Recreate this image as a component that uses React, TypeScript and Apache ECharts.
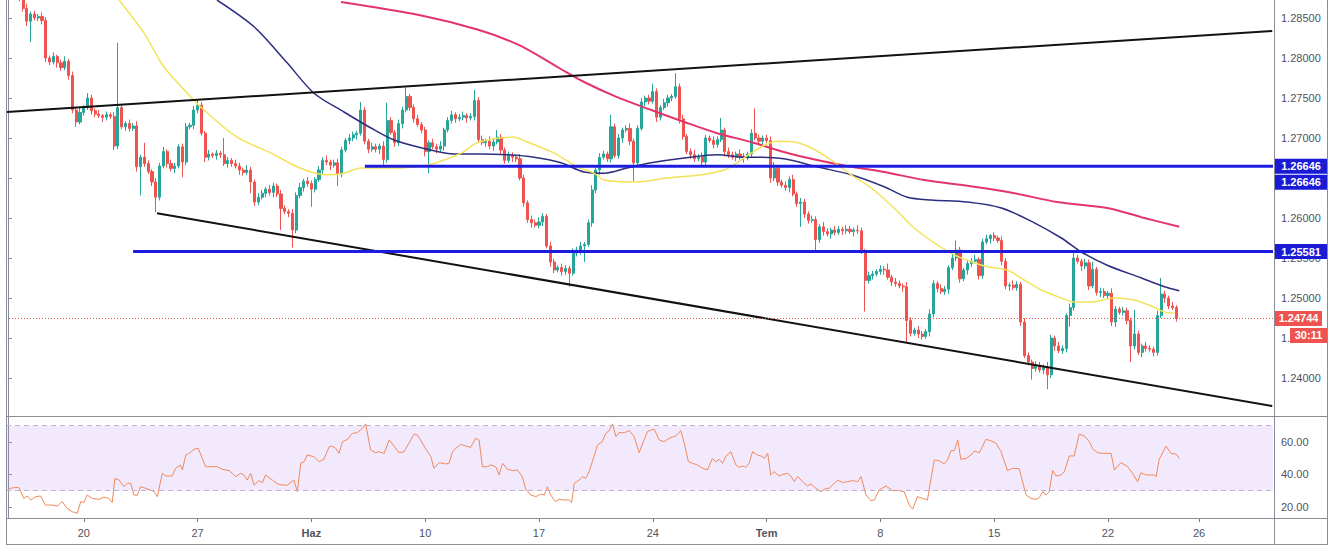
import React, { useEffect, useRef } from 'react';
import * as echarts from 'echarts';

// ---------- data (prices in pips above 1.20000, i.e. 742 => 1.27420) ----------
const SLOTS = 334; // candle slots on the time axis (incl. empty right margin)
const FIRST_OPEN = 898;

const closes = [
  893, 887, 881, 874, 862, 846, 855, 850, 852, 847,
  800, 795, 802, 794, 788, 796, 778, 735, 720, 732,
  738, 750, 734, 730, 728, 726, 729, 727, 690, 738,
  714, 718, 712, 715, 664, 676, 668, 658, 645, 626,
  665, 683, 668, 662, 665, 689, 670, 714, 716, 735,
  741, 706, 676, 680, 678, 681, 679, 668, 672, 668,
  665, 660, 657, 660, 645, 620, 626, 631, 636, 632,
  640, 630, 612, 608, 606, 585, 628, 638, 646, 643,
  636, 648, 660, 672, 670, 666, 669, 655, 685, 697,
  700, 704, 706, 735, 696, 686, 689, 686, 690, 673,
  722, 707, 694, 718, 735, 752, 738, 724, 717, 710,
  683, 694, 689, 686, 690, 710, 722, 729, 724, 726,
  728, 725, 727, 747, 698, 694, 696, 690, 695, 701,
  685, 672, 678, 676, 674, 650, 619, 598, 594, 591,
  595, 602, 565, 545, 535, 538, 533, 537, 531, 556,
  560, 565, 567, 594, 635, 660, 676, 680, 674, 714,
  678, 700, 710, 712, 696, 669, 712, 745, 750, 746,
  758, 726, 738, 744, 750, 752, 764, 724, 702, 683,
  679, 674, 677, 670, 700, 697, 692, 698, 710, 683,
  679, 676, 680, 677, 675, 680, 706, 700, 696, 700,
  697, 650, 662, 645, 641, 638, 648, 630, 618, 620,
  605, 597, 598, 573, 589, 583, 580, 585, 582, 586,
  584, 586, 583, 585, 584, 558, 522, 528, 530, 533,
  536, 535, 526, 520, 518, 515, 514, 472, 456, 460,
  455, 452, 458, 480, 518, 512, 508, 511, 538, 550,
  560, 524, 535, 543, 546, 548, 528, 570, 574, 578,
  575, 572, 546, 515, 516, 513, 517, 470, 428, 420,
  412, 416, 410, 414, 404, 450, 440, 434, 437, 478,
  488, 550, 546, 540, 544, 515, 536, 507, 508, 503,
  506, 470, 486, 482, 484, 472, 440, 455, 432, 440,
  437, 436, 432, 478, 505, 500, 490, 488, 474.4,
];

const upperWick = [
  3, 4, 2, 5, 4, 6, 3, 4, 3, 5,
  4, 3, 5, 2, 4, 6, 3, 5, 4, 7,
  3, 6, 4, 3, 5, 2, 4, 3, 5, 81,
  4, 3, 5, 4, 6, 3, 18, 4, 3, 5,
  4, 6, 3, 5, 4, 3, 4, 5, 3, 5,
  7, 4, 3, 5, 2, 4, 3, 21, 4, 3,
  5, 4, 3, 6, 4, 3, 5, 4, 3, 5,
  4, 3, 5, 4, 3, 5, 4, 6, 3, 5,
  4, 3, 5, 4, 6, 3, 4, 5, 4, 3,
  5, 4, 3, 10, 4, 3, 5, 4, 3, 6,
  22, 4, 3, 5, 4, 11, 3, 4, 5, 3,
  4, 3, 5, 4, 6, 3, 4, 5, 3, 4,
  5, 3, 4, 13, 4, 5, 3, 6, 4, 9,
  4, 3, 5, 4, 3, 6, 4, 3, 5, 4,
  6, 4, 3, 5, 4, 3, 5, 4, 3, 6,
  4, 5, 3, 4, 6, 3, 5, 4, 3, 15,
  4, 5, 3, 4, 6, 3, 4, 5, 3, 4,
  10, 4, 3, 5, 4, 3, 17, 4, 5, 3,
  4, 6, 3, 5, 4, 3, 5, 4, 15, 3,
  5, 4, 3, 6, 4, 3, 5, 31, 4, 3,
  4, 5, 8, 4, 3, 5, 4, 6, 3, 5,
  4, 3, 5, 4, 3, 6, 4, 3, 5, 4,
  3, 5, 4, 3, 6, 4, 3, 5, 4, 3,
  5, 4, 8, 3, 5, 4, 3, 6, 4, 3,
  5, 4, 3, 6, 4, 3, 5, 4, 3, 6,
  12, 4, 3, 5, 4, 6, 3, 4, 5, 2,
  4, 3, 5, 4, 3, 6, 4, 3, 5, 4,
  3, 5, 4, 3, 6, 4, 3, 5, 4, 3,
  5, 8, 4, 3, 5, 4, 9, 3, 5, 4,
  3, 6, 4, 3, 5, 4, 3, 30, 4, 3,
  5, 4, 3, 6, 20, 4, 3, 5, 3,
];

const lowerWick = [
  4, 3, 5, 3, 4, 6, 26, 3, 4, 5,
  5, 4, 3, 6, 4, 3, 5, 4, 6, 3,
  4, 3, 5, 4, 3, 6, 4, 3, 5, 4,
  3, 5, 4, 3, 6, 36, 4, 3, 5, 19,
  4, 3, 5, 4, 6, 3, 19, 4, 3, 5,
  4, 3, 6, 4, 3, 5, 4, 3, 5, 4,
  3, 6, 4, 3, 14, 5, 4, 3, 5, 4,
  6, 4, 27, 3, 5, 22, 4, 3, 5, 4,
  22, 4, 3, 5, 4, 6, 3, 15, 4, 3,
  5, 4, 6, 3, 4, 5, 3, 4, 6, 8,
  4, 3, 5, 4, 6, 3, 4, 5, 3, 4,
  6, 27, 3, 5, 4, 6, 3, 4, 5, 3,
  4, 6, 3, 5, 4, 3, 5, 4, 6, 3,
  5, 4, 3, 6, 4, 3, 5, 4, 6, 3,
  4, 5, 3, 6, 4, 3, 5, 4, 17, 3,
  4, 6, 20, 3, 5, 4, 6, 3, 4, 5,
  3, 4, 6, 3, 5, 23, 4, 3, 5, 4,
  3, 6, 4, 3, 5, 4, 3, 6, 4, 3,
  5, 4, 3, 6, 4, 3, 5, 4, 3, 6,
  4, 3, 5, 4, 6, 3, 4, 3, 5, 4,
  3, 6, 4, 5, 3, 4, 6, 3, 4, 29,
  5, 4, 3, 13, 4, 5, 3, 6, 4, 3,
  5, 4, 3, 6, 4, 3, 39, 4, 5, 3,
  4, 6, 3, 5, 4, 3, 6, 27, 4, 3,
  5, 4, 3, 6, 4, 5, 3, 4, 6, 3,
  4, 5, 3, 6, 4, 3, 5, 4, 3, 6,
  4, 3, 5, 4, 6, 3, 4, 5, 3, 4,
  14, 4, 3, 5, 18, 4, 6, 3, 4, 5,
  14, 4, 3, 6, 4, 5, 3, 4, 6, 3,
  4, 5, 6, 3, 4, 5, 20, 4, 3, 6,
  4, 3, 5, 4, 3, 6, 4, 3, 4,
];

// moving averages: [candle index, pips]
const maFast = [
  [29.3, 872.5], [35.9, 831], [41.1, 789], [48.3, 751], [51.7, 735], [60.4, 701], [69.4, 681],
  [75.4, 666], [79.9, 657.5], [84.1, 654], [88.6, 656], [93.1, 662.5], [101.8, 662.5], [110.5, 666],
  [115.0, 672.5], [119.5, 681], [123.7, 694], [128.2, 699], [133.4, 701], [136.9, 695], [144.0, 681],
  [150.1, 664], [154.5, 656], [157.2, 647.5], [165.1, 645], [173.8, 650], [182.8, 654], [188.8, 660],
  [192.2, 669], [195.9, 681], [199.4, 691], [202.8, 696], [207.3, 695], [211.8, 687.5], [217.0, 672.5],
  [222.3, 654], [227.6, 637.5], [233.6, 612.5], [238.9, 587.5], [244.2, 569], [249.5, 554], [254.7, 544],
  [258.2, 539], [263.4, 535], [267.9, 522.5], [272.4, 510], [277.7, 500], [281.1, 495], [285.6, 495],
  [291.7, 500], [296.9, 497.5], [301.4, 490], [304.9, 482.5], [307.5, 481],
];
const maMid = [
  [55.1, 872.5], [64.9, 839], [73.6, 794], [80.7, 756], [88.6, 732.5], [95.7, 712.5], [101.8, 697.5],
  [110.5, 686], [117.6, 680], [124.7, 680], [131.6, 679], [138.7, 676], [145.8, 669], [151.9, 657.5],
  [157.2, 656], [163.2, 662.5], [169.6, 669], [178.3, 675], [187.0, 679], [194.1, 676], [198.6, 676],
  [204.6, 674], [213.3, 664], [222.3, 654], [231.0, 639], [237.1, 626], [243.4, 622.5], [252.9, 620],
  [261.9, 612.5], [270.6, 594], [277.7, 575], [283.0, 557.5], [289.8, 541], [298.8, 525], [304.9, 514],
  [308.8, 509],
];
const maSlow = [
  [87.8, 870], [108.4, 853.75], [124.2, 835], [134.8, 816], [145.3, 787.5], [151.9, 770], [160.6, 751],
  [169.6, 735], [178.3, 720], [187.0, 706], [195.9, 695], [204.6, 682.5], [213.3, 672.5], [222.3, 664],
  [231.0, 657.5], [241.6, 647.5], [254.7, 639], [265.3, 631], [276.6, 620], [289.8, 612.5], [298.8, 601],
  [308.8, 589],
];

// RSI: [candle index, value]
const rsi = [
  [0, 30.5], [0.7, 31.5], [2.0, 32.1], [2.9, 31.9], [4.2, 25.3], [5.1, 26.8], [6.0, 24.3], [7.3, 26.3],
  [8.6, 26.8], [9.9, 21.2], [11.7, 21.2], [13.0, 20.6], [14.3, 23.3], [15.6, 19.2], [17.0, 17.1],
  [18.3, 16.1], [19.2, 23.3], [20.0, 22.7], [20.9, 27.4], [22.2, 25.3], [24.0, 24.7], [25.3, 26.0],
  [26.6, 25.3], [27.5, 22.7], [28.2, 37.6], [29.3, 36.6], [30.6, 32.5], [31.5, 34.6], [32.4, 34.6],
  [33.2, 27.4], [34.1, 27.2], [35.0, 32.5], [36.3, 31.5], [37.6, 30.5], [38.5, 29.4], [39.4, 26.3],
  [40.7, 40.7], [41.6, 39.1], [43.3, 39.1], [44.2, 43.8], [45.5, 45.8], [46.0, 42.8], [46.9, 52.0],
  [47.7, 53.0], [49.1, 55.5], [50.2, 56.1], [52.1, 44.8], [53.9, 44.8], [55.2, 44.8], [56.5, 43.2],
  [58.3, 42.4], [59.2, 40.7], [60.0, 38.7], [61.4, 40.7], [62.2, 39.7], [63.1, 36.6], [64.0, 40.7],
  [64.9, 33.5], [66.2, 36.2], [67.1, 35.0], [67.9, 39.7], [69.7, 36.6], [71.0, 34.2], [72.3, 33.5],
  [73.7, 33.5], [75.4, 36.6], [76.3, 29.4], [77.2, 46.9], [78.1, 47.9], [78.9, 52.0], [80.7, 51.0],
  [82.0, 47.9], [83.3, 49.3], [84.7, 57.1], [85.5, 57.5], [86.4, 56.1], [87.3, 53.0], [88.2, 60.2],
  [89.5, 61.6], [90.8, 65.3], [92.1, 65.7], [93.4, 68.4], [94.3, 71.1], [95.6, 55.1], [96.9, 53.4],
  [97.8, 54.0], [99.2, 53.0], [100.5, 61.2], [101.8, 57.5], [103.1, 53.4], [104.4, 54.0], [105.7, 59.2],
  [107.1, 64.9], [107.9, 64.3], [108.8, 61.2], [110.2, 55.5], [111.5, 51.0], [112.3, 43.8], [113.7, 47.3],
  [115.4, 46.5], [116.3, 46.9], [117.2, 54.1], [118.1, 56.1], [119.4, 58.6], [120.7, 57.5], [122.0, 56.7],
  [123.3, 62.3], [124.2, 61.2], [125.1, 44.8], [126.4, 44.8], [127.3, 45.9], [128.6, 44.8], [129.5, 39.7],
  [130.4, 46.9], [131.7, 43.2], [133.0, 42.4], [134.3, 42.8], [135.6, 38.7], [136.5, 31.1], [137.8, 27.4],
  [139.2, 26.4], [140.5, 28.0], [141.4, 27.4], [142.2, 32.5], [143.1, 27.4], [144.3, 23.3], [145.3, 24.7],
  [146.6, 24.3], [148.0, 24.3], [148.6, 22.7], [149.3, 34.6], [150.6, 36.6], [151.5, 38.7], [152.3, 37.6],
  [153.2, 41.7], [154.5, 51.0], [155.4, 58.1], [156.7, 60.2], [157.6, 65.3], [158.5, 67.0], [159.4, 71.1],
  [160.3, 63.3], [161.1, 65.7], [162.5, 65.7], [163.8, 67.0], [165.1, 63.3], [166.4, 53.4], [167.7, 61.2],
  [168.6, 66.4], [169.5, 67.4], [170.4, 67.8], [171.7, 61.2], [173.0, 60.2], [174.3, 62.3], [176.1, 63.7],
  [177.4, 67.0], [178.3, 59.2], [179.4, 47.9], [180.5, 46.9], [181.8, 45.8], [183.1, 43.8], [184.4, 42.8],
  [185.7, 49.9], [186.6, 47.9], [187.5, 49.3], [188.4, 46.9], [189.3, 51.4], [190.6, 54.0], [191.9, 45.9],
  [192.8, 44.4], [193.7, 45.2], [194.5, 44.4], [195.4, 46.9], [196.3, 54.0], [197.6, 52.0], [198.5, 51.4],
  [199.4, 49.9], [200.3, 53.0], [201.1, 39.7], [202.0, 41.7], [203.3, 39.1], [204.6, 40.3], [205.5, 40.7],
  [206.4, 39.1], [207.3, 35.6], [208.2, 38.7], [209.5, 35.6], [210.8, 32.9], [211.7, 34.2], [213.0, 31.5],
  [214.3, 29.4], [215.6, 31.5], [216.5, 31.5], [217.4, 33.5], [218.7, 36.6], [220.0, 35.0], [221.3, 35.6],
  [222.7, 36.2], [224.0, 35.6], [224.9, 38.7], [226.2, 27.4], [227.5, 23.9], [228.4, 24.3], [229.7, 30.5],
  [231.5, 32.9], [233.2, 30.1], [235.0, 30.1], [236.3, 29.4], [237.6, 21.2], [238.5, 18.6], [239.8, 26.4],
  [241.1, 25.3], [242.4, 24.3], [244.2, 48.9], [245.5, 48.5], [246.8, 46.5], [247.7, 48.9], [248.6, 54.7],
  [249.5, 54.7], [250.4, 61.2], [251.2, 49.3], [252.6, 49.9], [253.9, 52.0], [254.8, 54.5], [256.1, 53.4],
  [257.8, 61.6], [259.1, 60.8], [260.5, 59.2], [261.8, 54.1], [263.5, 42.4], [264.9, 43.8], [266.6, 43.6],
  [268.4, 27.4], [269.7, 25.3], [271.0, 24.7], [271.9, 25.9], [272.8, 29.4], [273.7, 27.4], [274.5, 29.4],
  [275.4, 42.4], [276.3, 39.1], [277.6, 39.7], [278.5, 41.7], [279.8, 51.4], [281.1, 51.4], [282.4, 64.9],
  [283.8, 63.7], [285.1, 60.2], [286.0, 55.5], [287.3, 53.4], [288.6, 53.0], [290.8, 53.0], [291.7, 42.8],
  [293.4, 47.3], [295.2, 44.8], [296.5, 40.7], [297.8, 35.6], [298.7, 41.1], [300.0, 39.7], [302.2, 39.7],
  [302.7, 38.7], [303.5, 49.3], [305.3, 57.5], [306.6, 53.0], [307.9, 52.6], [308.8, 49.9],
];

// drawn lines: [candle index, pips]
const upperTrend = [[-0.3, 732.5], [333.3, 833.75]];
const lowerTrend = [[39.3, 606], [333.3, 365]];
const resistanceLevel = 1.26646;
const resistanceStart = 94.1;
const supportLevel = 1.25581;
const supportStart = 33;
const lastPrice = 1.24744;
const countdown = '30:11';

const priceTicks = [1.24, 1.245, 1.25, 1.255, 1.26, 1.265, 1.27, 1.275, 1.28, 1.285];
// 1.26500 sits entirely under the two 1.26646 tags in the reference, so only its tick is drawn
const priceLabels = [1.24, 1.245, 1.25, 1.255, 1.26, 1.27, 1.275, 1.28, 1.285];
const rsiTicks = [20, 40, 60];
const rsiBand = [30, 70];
const timeTickIdx = [20, 50, 80, 110, 140, 170, 200, 230, 260, 290, 314];
const timeTickLabels = ['20', '27', 'Haz', '10', '17', '24', 'Tem', '8', '15', '22', '26'];

// ---------- helpers ----------
const toPrice = (v: number) => +(1.2 + v / 10000).toFixed(6);
const FONT = '"Liberation Sans", Arial, sans-serif';

function buildCandles() {
  const out: number[][] = [];
  let prev = FIRST_OPEN;
  for (let i = 0; i < closes.length; i++) {
    const o = prev;
    const c = closes[i];
    const h = Math.max(o, c) + upperWick[i];
    const l = Math.min(o, c) - lowerWick[i];
    out.push([toPrice(o), toPrice(c), toPrice(l), toPrice(h)]);
    prev = c;
  }
  return out;
}

const pairs = (arr: number[][]) => arr.map(([i, v]) => [i, toPrice(v)]);

export default function App() {
  const ref = useRef<HTMLDivElement>(null);

  useEffect(() => {
    document.body.style.margin = '0';
    if (!ref.current) return;
    const chart = echarts.init(ref.current, undefined, { renderer: 'svg' });

    const GL = 6;
    const GR = 1273;
    const gridW = GR - GL;

    const option: any = {
      animation: false,
      backgroundColor: '#ffffff',
      grid: [
        { left: GL, top: 0, width: gridW, height: 416 },
        { left: GL, top: 417, width: gridW, height: 101 },
      ],
      xAxis: [
        {
          type: 'category', gridIndex: 0, show: false, boundaryGap: true,
          data: Array.from({ length: SLOTS }, (_, i) => String(i)),
        },
        { type: 'value', gridIndex: 0, show: false, min: -0.5, max: SLOTS - 0.5 },
        {
          type: 'value', gridIndex: 1, min: -0.5, max: SLOTS - 0.5,
          axisLine: { show: false },
          splitLine: { show: false },
          axisTick: { show: true, length: 4, customValues: timeTickIdx, lineStyle: { color: '#787b86' } },
          axisLabel: {
            customValues: timeTickIdx,
            margin: 9,
            color: '#50535e',
            fontSize: 11,
            fontFamily: FONT,
            formatter: (val: number) => {
              const k = timeTickIdx.indexOf(Math.round(val));
              if (k < 0) return '';
              const t = timeTickLabels[k];
              return /[A-Za-z]/.test(t) ? '{b|' + t + '}' : t;
            },
            rich: { b: { fontWeight: 'bold', fontSize: 11, fontFamily: FONT, color: '#50535e' } },
          },
        },
      ],
      yAxis: [
        {
          type: 'value', gridIndex: 0, position: 'right', min: 1.23525, max: 1.28725, scale: true,
          axisLine: { show: true, lineStyle: { color: '#8a8d96' } },
          splitLine: { show: false },
          axisTick: { show: true, length: 4, customValues: priceTicks, lineStyle: { color: '#8a8d96' } },
          axisLabel: {
            customValues: priceLabels,
            margin: 8,
            color: '#50535e',
            fontSize: 11,
            fontFamily: FONT,
            formatter: (v: number) => v.toFixed(5),
          },
        },
        {
          type: 'value', gridIndex: 1, position: 'right', min: 13.23, max: 75.38,
          axisLine: { show: true, lineStyle: { color: '#8a8d96' } },
          splitLine: { show: false },
          axisTick: { show: true, length: 4, customValues: rsiTicks, lineStyle: { color: '#8a8d96' } },
          axisLabel: {
            customValues: rsiTicks,
            margin: 8,
            color: '#50535e',
            fontSize: 11,
            fontFamily: FONT,
            formatter: (v: number) => v.toFixed(2),
          },
        },
      ],
      series: [
        {
          type: 'candlestick', xAxisIndex: 0, yAxisIndex: 0, clip: true,
          barWidth: 2.6,
          data: buildCandles(),
          itemStyle: {
            color: '#26a69a', color0: '#ef5350',
            borderColor: '#26a69a', borderColor0: '#ef5350', borderWidth: 1,
          },
        },
        {
          type: 'line', xAxisIndex: 1, yAxisIndex: 0, data: pairs(maSlow), showSymbol: false,
          smooth: 0.3, clip: true, lineStyle: { color: '#e3356a', width: 2 }, silent: true,
        },
        {
          type: 'line', xAxisIndex: 1, yAxisIndex: 0, data: pairs(maMid), showSymbol: false,
          smooth: 0.3, clip: true, lineStyle: { color: '#2c2f80', width: 1.5 }, silent: true,
        },
        {
          type: 'line', xAxisIndex: 1, yAxisIndex: 0, data: pairs(maFast), showSymbol: false,
          smooth: 0.3, clip: true, lineStyle: { color: '#f3e35a', width: 1.5 }, silent: true,
        },
        {
          type: 'line', xAxisIndex: 1, yAxisIndex: 0, data: pairs(upperTrend), showSymbol: false,
          clip: true, lineStyle: { color: '#111111', width: 2 }, silent: true,
        },
        {
          type: 'line', xAxisIndex: 1, yAxisIndex: 0, data: pairs(lowerTrend), showSymbol: false,
          clip: true, lineStyle: { color: '#111111', width: 2 }, silent: true,
        },
        {
          type: 'line', xAxisIndex: 1, yAxisIndex: 0,
          data: [[resistanceStart, resistanceLevel], [SLOTS - 0.5, resistanceLevel]],
          showSymbol: false, clip: true, lineStyle: { color: '#1c1ce0', width: 3 }, silent: true,
        },
        {
          type: 'line', xAxisIndex: 1, yAxisIndex: 0,
          data: [[supportStart, supportLevel], [SLOTS - 0.5, supportLevel]],
          showSymbol: false, clip: true, lineStyle: { color: '#1c1ce0', width: 3 }, silent: true,
        },
        {
          type: 'line', xAxisIndex: 1, yAxisIndex: 0,
          data: [[-0.5, lastPrice], [SLOTS - 0.5, lastPrice]],
          showSymbol: false, clip: true,
          lineStyle: { color: '#ef5350', width: 1, type: [1, 2] }, silent: true,
        },
        {
          type: 'line', xAxisIndex: 2, yAxisIndex: 1, data: rsi, showSymbol: false, clip: true,
          lineStyle: { color: '#f0895a', width: 1 }, silent: true,
          markArea: {
            silent: true,
            itemStyle: { color: 'rgba(180, 120, 240, 0.16)' },
            data: [[{ yAxis: rsiBand[0] }, { yAxis: rsiBand[1] }]],
          },
          markLine: {
            silent: true, symbol: 'none', label: { show: false },
            lineStyle: { color: '#bdb3cc', type: [5, 4], width: 1 },
            data: [{ yAxis: rsiBand[0] }, { yAxis: rsiBand[1] }],
          },
        },
      ],
    };

    chart.setOption(option);

    const py = (p: number) => chart.convertToPixel({ yAxisIndex: 0 }, p) as number;
    const tagFont = 'bold 11px ' + FONT;
    const tag = (y: number, text: string, color: string, x0: number, w: number) => [
      { type: 'rect', z: 100, shape: { x: x0, y: y - 7.5, width: w, height: 15 }, style: { fill: color } },
      {
        type: 'text', z: 101, x: x0 + w / 2, y,
        style: { text, fill: '#ffffff', font: tagFont, textAlign: 'center', textVerticalAlign: 'middle' },
      },
    ];
    const lineEl = (x1: number, y1: number, x2: number, y2: number) => ({
      type: 'line', z: 90, shape: { x1, y1, x2, y2 }, style: { stroke: '#8a8d96', lineWidth: 1 },
    });

    const yr = py(resistanceLevel);
    const ys = py(supportLevel);
    const yl = py(lastPrice);

    const graphic = [
      lineEl(6.5, 0, 6.5, 544),
      lineEl(1327.5, 0, 1327.5, 544),
      lineEl(6, 544.5, 1328, 544.5),
      lineEl(6, 416.5, 1328, 416.5),
      lineEl(6, 518.5, 1328, 518.5),
      lineEl(1274.5, 0, 1274.5, 544),
      ...tag(yr, resistanceLevel.toFixed(5), '#1b1bd6', 1275, 52),
      ...tag(yr + 16, resistanceLevel.toFixed(5), '#1b1bd6', 1275, 52),
      ...tag(ys, supportLevel.toFixed(5), '#1b1bd6', 1275, 52),
      ...tag(yl, lastPrice.toFixed(5), '#ef5350', 1275, 47),
      ...tag(yl + 17, countdown, '#ef5350', 1290, 37),
    ];
    chart.setOption({ graphic });

    return () => chart.dispose();
  }, []);

  return <div ref={ref} style={{ width: 1332, height: 554 }} />;
}
